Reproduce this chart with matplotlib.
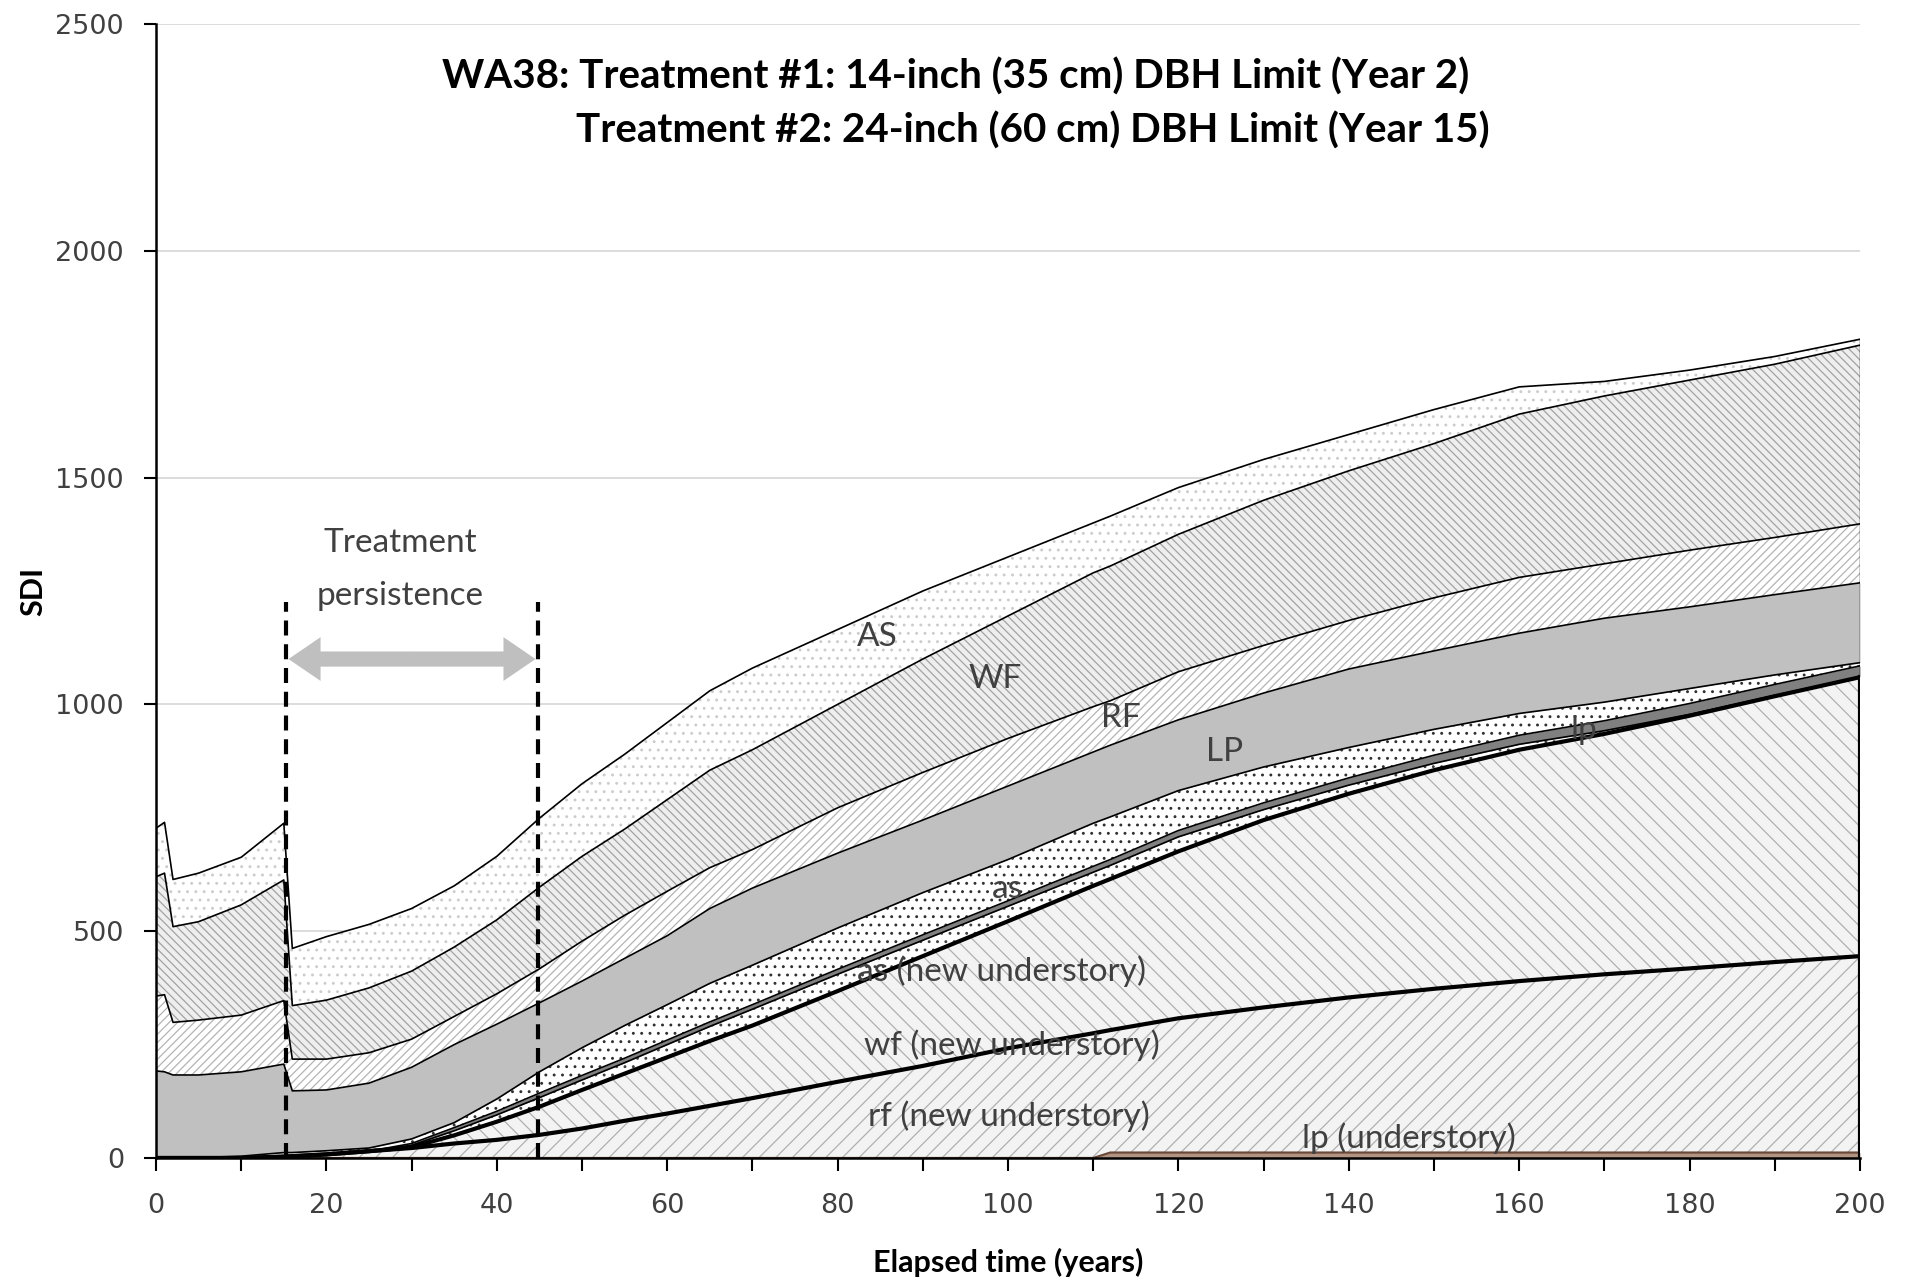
import numpy as np
import matplotlib
matplotlib.use("Agg")
import matplotlib.pyplot as plt
from matplotlib.ticker import MultipleLocator

plt.rcParams['hatch.linewidth'] = 0.9

# ---------------- data (SDI by species, stacked bottom -> top) ----------------
years = [0, 1, 2, 5, 10, 15, 16, 20, 25, 30, 35, 40, 45, 50, 55, 60, 65, 70,
         80, 90, 100, 110, 112, 120, 130, 140, 150, 160, 170, 180, 190, 200]

lp_understory = [0, 0, 0, 0, 0, 0, 0, 0, 0, 0, 0, 0, 0, 0, 0, 0, 0, 0,
                 0, 0, 0, 0, 12, 12, 12, 12, 12, 12, 12, 12, 12, 12]
rf_new_understory = [0, 0, 0, 0, 0, 3, 4, 8, 15, 22, 32, 40, 51, 65, 82, 98, 115, 132,
                     168, 203, 242, 275, 270, 296, 320, 342, 361, 378, 393, 406, 420, 433]
wf_new_understory = [0, 0, 0, 0, 0, 0, 0, 0, 0, 2, 18, 40, 62, 85, 104, 124, 143, 160,
                     200, 242, 280, 325, 333, 368, 413, 449, 482, 510, 530, 557, 586, 615]
as_new_understory = [0, 0, 0, 0, 0, 0, 0, 0, 0, 4, 10, 15, 20, 22, 24, 28, 32, 36,
                     37, 35, 33, 30, 30, 32, 23, 19, 15, 12, 7, 3, 2, 1]
lp_small = [0, 0, 0, 0, 0, 0, 0, 0, 0, 4, 7, 8, 10, 10, 10, 10, 10, 10,
            11, 12, 12, 13, 13, 14, 15, 16, 18, 20, 22, 24, 24, 24]
as_small = [0, 0, 0, 1, 4, 9, 8, 8, 7, 10, 11, 27, 47, 61, 72, 78, 85, 87,
            91, 93, 91, 95, 94, 88, 79, 67, 57, 48, 41, 33, 21, 7]
LP = [192, 190, 183, 182, 186, 195, 136, 134, 143, 158, 172, 165, 152, 147, 148, 152, 165, 170,
      165, 160, 162, 157, 158, 156, 163, 173, 173, 177, 185, 180, 177, 176]
RF = [165, 170, 116, 121, 125, 140, 70, 68, 67, 62, 62, 67, 75, 88, 95, 98, 90, 85,
      100, 105, 105, 100, 98, 106, 105, 107, 117, 123, 120, 125, 126, 130]
WF = [263, 268, 211, 217, 243, 266, 118, 130, 143, 150, 153, 163, 180, 187, 190, 202, 215, 220,
      228, 250, 270, 295, 297, 303, 320, 330, 340, 360, 370, 375, 382, 394]
AS = [107, 112, 104, 107, 105, 125, 126, 140, 140, 138, 135, 140, 152, 160, 165, 170, 175, 180,
      165, 150, 130, 110, 110, 103, 90, 80, 75, 60, 32, 22, 17, 13]

title_1 = "WA38: Treatment #1: 14-inch (35 cm) DBH Limit (Year 2)"
title_2 = "Treatment #2: 24-inch (60 cm) DBH Limit (Year 15)"
treatment_years = [15.3, 44.8]

# (values, facecolor, hatchcolor, hatch, top line colour, top line width)
layers = [
    (lp_understory,     '#b39483', '#b39483', None,       '#6b4a3a', 1.6),
    (rf_new_understory, '#f3f3f3', '#b0b0b0', '//',       'black',   3.0),
    (wf_new_understory, '#f3f3f3', '#b0b0b0', '\\\\',     'black',   3.0),
    (as_new_understory, 'white',   '#404040', '..',       'black',   1.2),
    (lp_small,          '#808080', '#808080', None,       'black',   1.2),
    (as_small,          'white',   '#303030', '..',       'black',   1.2),
    (LP,                '#c0c0c0', '#c0c0c0', None,       'black',   1.2),
    (RF,                '#ffffff', '#b4b4b4', '////',     'black',   1.2),
    (WF,                '#eeeeee', '#a2a2a2', '\\\\\\\\', 'black',   1.2),
    (AS,                '#ffffff', '#cccccc', '..',       'black',   1.2),
]

W, H = 1915, 1286
fig = plt.figure(figsize=(W / 100, H / 100), dpi=100)
ax = fig.add_axes([156 / W, 1 - 1158 / H, (1860 - 156) / W, (1158 - 24) / H])

x = np.array(years, dtype=float)
base = np.zeros_like(x)
tops = []
for vals, fc, hc, hatch, lc, lw in layers:
    top = base + np.array(vals, dtype=float)
    ax.fill_between(x, base, top, facecolor=fc, edgecolor=hc, hatch=hatch,
                    linewidth=0, zorder=2)
    tops.append((top, lc, lw))
    base = top

for top, lc, lw in sorted(tops, key=lambda t: t[2]):
    ax.plot(x, top, color=lc, lw=lw, zorder=3, solid_joinstyle='round')
# right-hand edge of the areas
ax.plot([200, 200], [0, tops[2][0][-1]], color='black', lw=3.0, zorder=3)
ax.plot([200, 200], [tops[2][0][-1], tops[-1][0][-1]], color='black', lw=1.0, zorder=3)

# treatment markers
for ty in treatment_years:
    ax.plot([ty, ty], [0, 1226], color='black', lw=3.0, ls=(0, (3.6, 2.1)), zorder=5)
mid = sum(treatment_years) / 2
for end in treatment_years:
    ax.annotate('', xy=(end + (0.25 if end < mid else -0.25), 1100), xytext=(mid, 1100),
                arrowprops=dict(arrowstyle='simple,head_length=0.55,head_width=0.75,tail_width=0.26',
                                mutation_scale=42, color='#bfbfbf', lw=0,
                                shrinkA=0, shrinkB=0), zorder=5)

txtc = '#404040'
lab = dict(family='Lato', fontsize=24, color=txtc, ha='center', va='center', zorder=6)
ax.text(28.7, 1355, 'Treatment', **lab)
ax.text(28.7, 1239, 'persistence', **lab)
ax.text(84.6, 1148, 'AS', **lab)
ax.text(98.5, 1056, 'WF', **lab)
ax.text(113.3, 970, 'RF', **lab)
ax.text(125.4, 894, 'LP', **lab)
ax.text(167.6, 943, 'lp', **lab)
ax.text(99.9, 593, 'as', **lab)
ax.text(99.2, 412, 'as (new understory)', **lab)
ax.text(100.4, 248, 'wf (new understory)', **lab)
ax.text(100.1, 92, 'rf (new understory)', **lab)
ax.text(147.0, 43, 'lp (understory)', **lab)

fig.text(1203 / 1568, 1 - 63 / 1053, title_1, family='Lato', fontweight='bold',
         fontsize=29, ha='right', va='center', color='black')
fig.text(1220 / 1568, 1 - 107 / 1053, title_2, family='Lato', fontweight='bold',
         fontsize=29, ha='right', va='center', color='black')

# axes styling
ax.set_xlim(0, 200)
ax.set_ylim(0, 2500)
ax.xaxis.set_major_locator(MultipleLocator(20))
ax.xaxis.set_minor_locator(MultipleLocator(10))
ax.yaxis.set_major_locator(MultipleLocator(500))
ax.tick_params(axis='both', which='both', direction='out', length=9, width=1.5,
               color='black', labelsize=19.5, labelcolor='#404040')
ax.tick_params(axis='x', which='both', pad=16)
ax.tick_params(axis='y', which='both', pad=14)
for lab_t in ax.get_xticklabels() + ax.get_yticklabels():
    lab_t.set_family('DejaVu Sans')
ax.yaxis.grid(True, color='#d9d9d9', lw=1.3, zorder=0)
ax.set_axisbelow(True)
for s in ['top', 'right']:
    ax.spines[s].set_visible(False)
for s in ['left', 'bottom']:
    ax.spines[s].set_linewidth(1.8)
    ax.spines[s].set_zorder(7)

ax.set_xlabel('Elapsed time (years)', family='Lato', fontweight='bold', fontsize=22,
              labelpad=21)
ax.set_ylabel('SDI', family='Lato', fontweight='bold', fontsize=22, labelpad=6)

fig.savefig('out.png', dpi=100)
